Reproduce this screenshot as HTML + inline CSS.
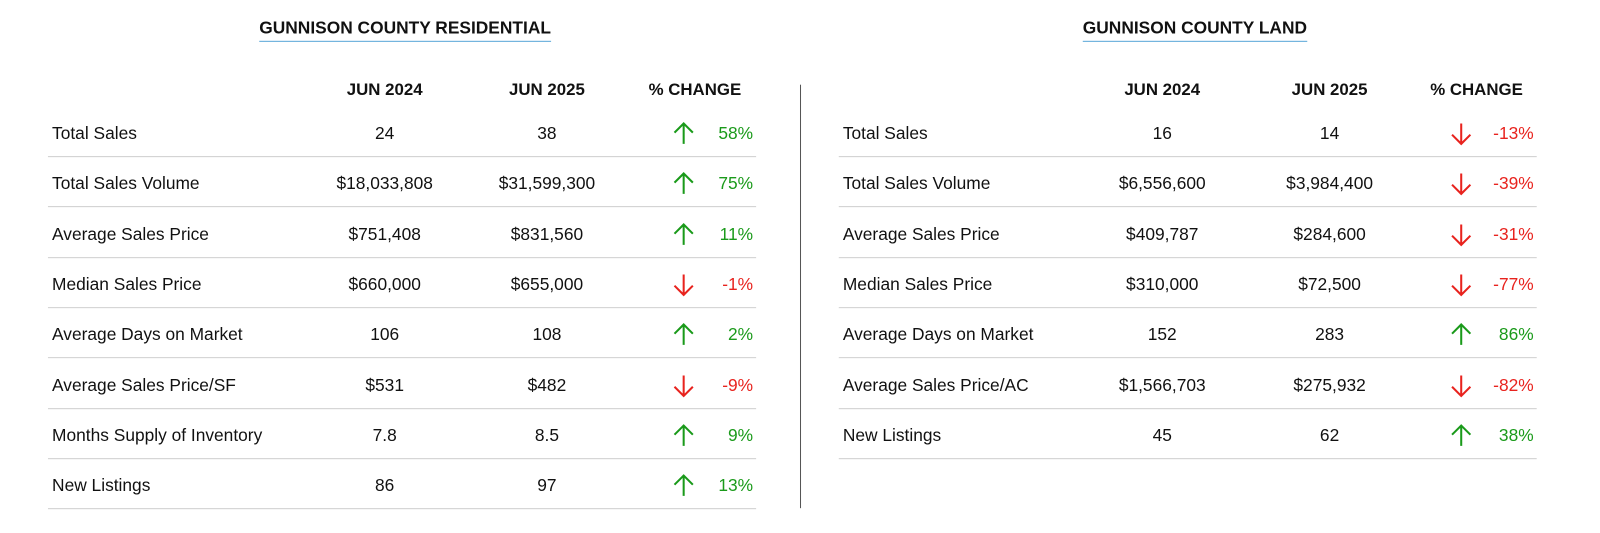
<!DOCTYPE html>
<html><head><meta charset="utf-8"><style>
body{margin:0;width:1600px;height:533px;background:#fff;position:relative;overflow:hidden;font-family:"Liberation Sans",sans-serif;color:#111}
#stage{position:absolute;left:0;top:0;width:1568px;height:522px;transform:scale(1.0204);transform-origin:0 0}
.a{position:absolute;white-space:nowrap;line-height:20px}
.t{font-weight:bold;font-size:17px;border-bottom:1.5px solid #5aa7d8;padding-bottom:2px;line-height:20px}
.h{font-weight:bold;font-size:16.5px}
.c{font-size:17px}
.ln{position:absolute;height:1px;background:#cfcfcf}
</style></head><body>
<div id="stage">
<div class="a" style="left:784px;top:83px;width:1px;height:415px;background:#555"></div>
</div>
<script>
const resLabels=["Total Sales","Total Sales Volume","Average Sales Price","Median Sales Price","Average Days on Market","Average Sales Price/SF","Months Supply of Inventory","New Listings"];
const res2024=["24","$18,033,808","$751,408","$660,000","106","$531","7.8","86"];
const res2025=["38","$31,599,300","$831,560","$655,000","108","$482","8.5","97"];
const resPct=[58,75,11,-1,2,-9,9,13];
const landLabels=["Total Sales","Total Sales Volume","Average Sales Price","Median Sales Price","Average Days on Market","Average Sales Price/AC","New Listings"];
const land2024=["16","$6,556,600","$409,787","$310,000","152","$1,566,703","45"];
const land2025=["14","$3,984,400","$284,600","$72,500","283","$275,932","62"];
const landPct=[-13,-39,-31,-77,86,-82,38];
const stage=document.getElementById('stage');
function mk(cls,txt,style,name){const d=document.createElement('div');d.className='a '+cls;d.textContent=txt;d.style.cssText=style;


stage.appendChild(d);return d;}
function arrow(x,y,up,name){const ns="http://www.w3.org/2000/svg";const s=document.createElementNS(ns,'svg');
s.setAttribute('width','22');s.setAttribute('height','24');s.style.cssText=`position:absolute;left:${x-11}px;top:${y-12}px`;


const col=up?'#1a9a1a':'#e8231e';
s.innerHTML=up?`<path d="M11 22V2M2 11L11 2L20 11" stroke="${col}" stroke-width="2" fill="none"/>`:`<path d="M11 2V22M2 13L11 22L20 13" stroke="${col}" stroke-width="2" fill="none"/>`;
stage.appendChild(s);}
function table(p,labels,v1,v2,pct,key){
 mk('t',p.title,`left:${p.tx}px;top:18px;transform:translateX(-50%)`,key+'-title');
 mk('h','JUN 2024',`left:${p.c1}px;top:78px;transform:translateX(-50%)`,key+'-header-2024');
 mk('h','JUN 2025',`left:${p.c2}px;top:78px;transform:translateX(-50%)`,key+'-header-2025');
 mk('h','% CHANGE',`left:${p.c3}px;top:78px;transform:translateX(-50%)`,key+'-header-change');
 labels.forEach((l,i)=>{const y=131+i*49.3;
  mk('c',l,`left:${p.x0+4}px;top:${y-10}px`,key+'-row-label');
  mk('c',v1[i],`left:${p.c1}px;top:${y-10}px;transform:translateX(-50%)`,key+'-value-2024');
  mk('c',v2[i],`left:${p.c2}px;top:${y-10}px;transform:translateX(-50%)`,key+'-value-2025');
  const up=pct[i]>=0;
  arrow(p.ax,y,up,key+'-change-arrow');
  mk('c',pct[i]+'%',`right:${1568-p.pr}px;top:${y-10}px;color:${up?'#1a9a1a':'#e8231e'}`,key+'-change-value');
  const ln=document.createElement('div');ln.className='ln';ln.style.cssText=`left:${p.x0}px;width:${p.x1-p.x0}px;top:${y+22}px`;
  
  
  stage.appendChild(ln);
 });}
table({title:'GUNNISON COUNTY RESIDENTIAL',tx:397,x0:47,x1:741,c1:377,c2:536,c3:681,ax:670,pr:738},resLabels,res2024,res2025,resPct,'residential');
table({title:'GUNNISON COUNTY LAND',tx:1171,x0:822,x1:1506,c1:1139,c2:1303,c3:1447,ax:1432,pr:1503},landLabels,land2024,land2025,landPct,'land');
</script>
</body></html>
